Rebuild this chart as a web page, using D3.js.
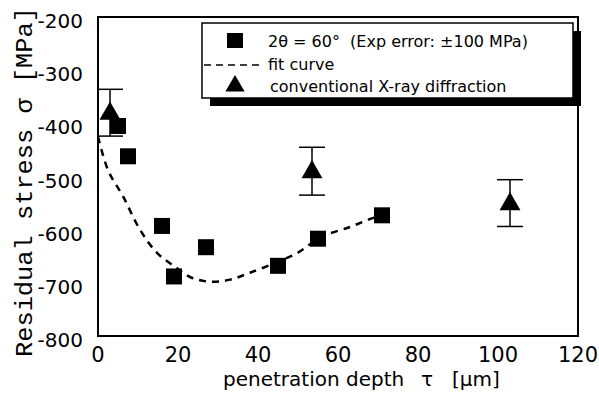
<!DOCTYPE html>
<html lang="en">
<head>
    <meta charset="utf-8">
    <title>Residual stress</title>
    <style>
        body { margin: 0; background: #fff; }
        text { font-family: "DejaVu Sans", "Liberation Sans", sans-serif; fill: #000; }
    </style>
</head>
<body>
    <svg width="599" height="397"></svg>
    <script src="https://cdn.jsdelivr.net/npm/d3@7"></script>
    <script>
        // 2theta = 60 deg measurements
        const sqDepth = [5, 7.5, 16, 19, 27, 45, 55, 71];
        const sqStress = [-405, -462, -593, -688, -633, -668, -617, -573];

        // conventional X-ray diffraction
        const triDepth = [3, 53.5, 103];
        const triStress = [-380, -490, -550];
        const triErr = [44, 45, 44];

        // fit curve
        const fitDepth = [0, 2.5, 6.3, 10.5, 14.8, 19.3, 23, 28, 33, 38, 44.8, 49.8, 56, 63, 68, 71];
        const fitStress = [-425, -488, -538, -600, -644, -670, -689, -698, -694, -681, -661, -644, -613, -595, -580, -573];

        const xTicks = [0, 20, 40, 60, 80, 100, 120];
        const yTicks = [-200, -300, -400, -500, -600, -700, -800];

        const svg = d3.select("svg");
        const m = {left: 98, right: 578, top: 17, bottom: 336};

        const x = d3.scaleLinear().domain([0, 120]).range([m.left, m.right]);
        const y = d3.scaleLinear().domain([-800, -200]).range([m.bottom, m.top]);

        // frame
        svg.append("rect")
            .attr("x", m.left).attr("y", m.top)
            .attr("width", m.right - m.left).attr("height", m.bottom - m.top)
            .attr("fill", "none").attr("stroke", "#000").attr("stroke-width", 2);

        // tick labels
        svg.append("g").selectAll("text").data(xTicks).join("text")
            .attr("x", d => x(d)).attr("y", 362)
            .attr("text-anchor", "middle")
            .attr("font-size", 21)
            .text(d => d);

        svg.append("g").selectAll("text").data(yTicks).join("text")
            .attr("x", 83).attr("y", d => y(d) + 11)
            .attr("text-anchor", "end")
            .attr("font-size", 20)
            .text(d => d);

        // axis titles
        const xt = svg.append("text").attr("y", 386).attr("font-size", 20);
        xt.append("tspan").attr("x", 223).text("penetration depth");
        xt.append("tspan").attr("x", 421).text("\u03c4");
        xt.append("tspan").attr("x", 452).text("[\u00b5m]");

        svg.append("text")
            .attr("transform", "translate(32,357) rotate(-90)")
            .attr("font-size", 24)
            .attr("textLength", 350)
            .attr("lengthAdjust", "spacingAndGlyphs")
            .style("font-family", "'Liberation Mono', 'DejaVu Sans Mono', monospace")
            .text("Residual stress \u03c3 [MPa]");

        // fit curve
        const line = d3.line()
            .x((d, i) => x(fitDepth[i]))
            .y(d => y(d))
            .curve(d3.curveCatmullRom);
        svg.append("path")
            .attr("d", line(fitStress))
            .attr("fill", "none")
            .attr("stroke", "#000")
            .attr("stroke-width", 2.5)
            .attr("stroke-dasharray", "7,6");

        // squares
        const sq = 16;
        svg.append("g").selectAll("rect").data(sqStress).join("rect")
            .attr("x", (d, i) => x(sqDepth[i]) - sq / 2)
            .attr("y", d => y(d) - sq / 2)
            .attr("width", sq).attr("height", sq)
            .attr("fill", "#000");

        // error bars
        const eb = svg.append("g").attr("stroke", "#000").attr("stroke-width", 1.5);
        triStress.forEach((v, i) => {
            const cx = x(triDepth[i]);
            eb.append("line").attr("x1", cx).attr("x2", cx)
                .attr("y1", y(v + triErr[i])).attr("y2", y(v - triErr[i]));
            eb.append("line").attr("x1", cx - 13).attr("x2", cx + 13)
                .attr("y1", y(v + triErr[i])).attr("y2", y(v + triErr[i]));
            eb.append("line").attr("x1", cx - 13).attr("x2", cx + 13)
                .attr("y1", y(v - triErr[i])).attr("y2", y(v - triErr[i]));
        });

        // triangles
        const tri = d3.symbol().type(d3.symbolTriangle).size(190);
        svg.append("g").selectAll("path").data(triStress).join("path")
            .attr("transform", (d, i) => `translate(${x(triDepth[i])},${y(d) + 1})`)
            .attr("d", tri)
            .attr("fill", "#000");

        // legend with drop shadow
        const lg = svg.append("g");
        lg.append("rect")
            .attr("x", 210).attr("y", 31).attr("width", 371).attr("height", 75)
            .attr("fill", "#000");
        lg.append("rect")
            .attr("x", 202).attr("y", 23).attr("width", 371).attr("height", 75)
            .attr("fill", "#fff").attr("stroke", "#000").attr("stroke-width", 1.5);

        lg.append("rect").attr("x", 227).attr("y", 33).attr("width", 16).attr("height", 15).attr("fill", "#000");
        lg.append("text").attr("x", 268).attr("y", 47).attr("font-size", 16)
            .attr("xml:space", "preserve")
            .text("2\u03b8 = 60\u00b0  (Exp error: \u00b1100 MPa)");

        lg.append("line").attr("x1", 204).attr("x2", 264).attr("y1", 65).attr("y2", 65)
            .attr("stroke", "#000").attr("stroke-width", 1.5).attr("stroke-dasharray", "7,5");
        lg.append("text").attr("x", 268).attr("y", 70).attr("font-size", 16).text("fit curve");

        lg.append("path")
            .attr("transform", "translate(235,86)")
            .attr("d", d3.symbol().type(d3.symbolTriangle).size(160))
            .attr("fill", "#000");
        lg.append("text").attr("x", 270).attr("y", 92).attr("font-size", 16).text("conventional X-ray diffraction");
    </script>
</body>
</html>
